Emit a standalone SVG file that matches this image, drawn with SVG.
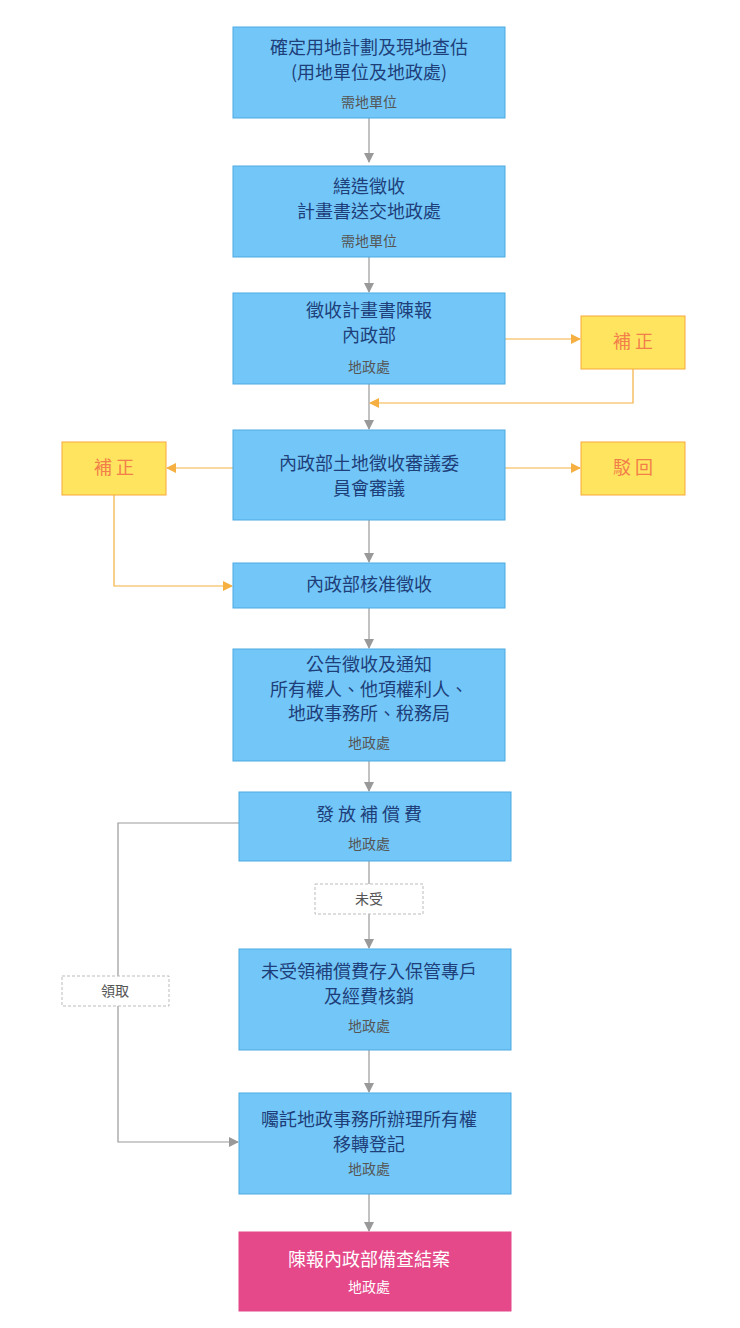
<svg xmlns="http://www.w3.org/2000/svg" width="740" height="1328" viewBox="0 0 740 1328">
<style>
.n{fill:#73C7F8;stroke:#4DA9E3;stroke-width:1}
.y{fill:#FFE45F;stroke:#F5A93A;stroke-width:1}
.p{fill:#E5498A;stroke:#E5498A;stroke-width:1}
.t{font-family:"Noto Sans CJK TC","Liberation Sans",sans-serif;font-size:18px;fill:#1E3F7A;text-anchor:middle}
.s{font-family:"Noto Sans CJK TC","Liberation Sans",sans-serif;font-size:14px;fill:#555;text-anchor:middle}
.yt{font-family:"Noto Sans CJK TC","Liberation Sans",sans-serif;font-size:18px;fill:#F27E4A;text-anchor:middle}
.w{fill:#fff}
.lb{fill:#fff;stroke:#bbb;stroke-width:1;stroke-dasharray:3 2}
.g{fill:none;stroke:#999;stroke-width:1.2}
.o{fill:none;stroke:#F5B041;stroke-width:1.2}
</style>
<defs>
<marker id="ag" markerWidth="10" markerHeight="10" refX="9" refY="5" orient="auto" markerUnits="userSpaceOnUse"><path d="M0,0 L10,5 L0,10 z" fill="#999"/></marker>
<marker id="ao" markerWidth="10" markerHeight="10" refX="9" refY="5" orient="auto" markerUnits="userSpaceOnUse"><path d="M0,0 L10,5 L0,10 z" fill="#F5B041"/></marker>
</defs>
<rect width="740" height="1328" fill="#fff"/>
<g id="connectors">
<path class="g" d="M369,118 V162" marker-end="url(#ag)"/>
<path class="g" d="M369,257 V292" marker-end="url(#ag)"/>
<path class="g" d="M369,384 V429" marker-end="url(#ag)"/>
<path class="o" d="M505,339 H580" marker-end="url(#ao)"/>
<path class="o" d="M633,369 V403 H370" marker-end="url(#ao)"/>
<path class="o" d="M233,468 H167" marker-end="url(#ao)"/>
<path class="o" d="M505,468 H580" marker-end="url(#ao)"/>
<path class="o" d="M114,495 V586 H232" marker-end="url(#ao)"/>
<path class="g" d="M369,520 V562" marker-end="url(#ag)"/>
<path class="g" d="M369,608 V648" marker-end="url(#ag)"/>
<path class="g" d="M369,761 V791" marker-end="url(#ag)"/>
<path class="g" d="M369,861 V948" marker-end="url(#ag)"/>
<path class="g" d="M239,823 H118 V1142 H238" marker-end="url(#ag)"/>
<path class="g" d="M369,1050 V1092" marker-end="url(#ag)"/>
<path class="g" d="M369,1194 V1231" marker-end="url(#ag)"/>
<g id="label-weishou"><rect class="lb" x="315" y="884" width="108" height="30"/><text class="s" x="369" y="904">未受</text></g>
<g id="label-lingqu"><rect class="lb" x="62" y="976" width="107" height="30"/><text class="s" x="115" y="996">領取</text></g>
</g>
<g id="n1"><rect class="n" x="233" y="27" width="272" height="91"/>
<text class="t" x="369" y="54">確定用地計劃及現地查估</text>
<text class="t" x="369" y="79">(用地單位及地政處)</text>
<text class="s" x="369" y="107">需地單位</text></g>
<g id="n2"><rect class="n" x="233" y="166" width="272" height="91"/>
<text class="t" x="369" y="193">繕造徵收</text>
<text class="t" x="369" y="218">計畫書送交地政處</text>
<text class="s" x="369" y="246">需地單位</text></g>
<g id="n3"><rect class="n" x="233" y="293" width="272" height="91"/>
<text class="t" x="369" y="317">徵收計畫書陳報</text>
<text class="t" x="369" y="342">內政部</text>
<text class="s" x="369" y="372">地政處</text></g>
<g id="y1"><rect class="y" x="581" y="316" width="104" height="53"/>
<text class="yt" x="633" y="348">補 正</text></g>
<g id="n4"><rect class="n" x="233" y="430" width="272" height="90"/>
<text class="t" x="369" y="470">內政部土地徵收審議委</text>
<text class="t" x="369" y="495">員會審議</text></g>
<g id="y2"><rect class="y" x="62" y="442" width="104" height="53"/>
<text class="yt" x="114" y="474">補 正</text></g>
<g id="y3"><rect class="y" x="581" y="442" width="104" height="53"/>
<text class="yt" x="633" y="474">駁 回</text></g>
<g id="n5"><rect class="n" x="233" y="563" width="272" height="45"/>
<text class="t" x="369" y="591">內政部核准徵收</text></g>
<g id="n6"><rect class="n" x="233" y="649" width="272" height="112"/>
<text class="t" x="369" y="671">公告徵收及通知</text>
<text class="t" x="369" y="696">所有權人、他項權利人、</text>
<text class="t" x="369" y="720">地政事務所、稅務局</text>
<text class="s" x="369" y="748">地政處</text></g>
<g id="n7"><rect class="n" x="239" y="792" width="272" height="69"/>
<text class="t" x="369" y="821">發 放 補 償 費</text>
<text class="s" x="369" y="849">地政處</text></g>
<g id="n8"><rect class="n" x="239" y="949" width="272" height="101"/>
<text class="t" x="369" y="978">未受領補償費存入保管專戶</text>
<text class="t" x="369" y="1003">及經費核銷</text>
<text class="s" x="369" y="1031">地政處</text></g>
<g id="n9"><rect class="n" x="239" y="1093" width="272" height="101"/>
<text class="t" x="369" y="1126">囑託地政事務所辦理所有權</text>
<text class="t" x="369" y="1151">移轉登記</text>
<text class="s" x="369" y="1174">地政處</text></g>
<g id="n10"><rect class="p" x="239" y="1232" width="272" height="79"/>
<text class="t w" x="369" y="1266">陳報內政部備查結案</text>
<text class="s w" x="369" y="1292">地政處</text></g>
</svg>
